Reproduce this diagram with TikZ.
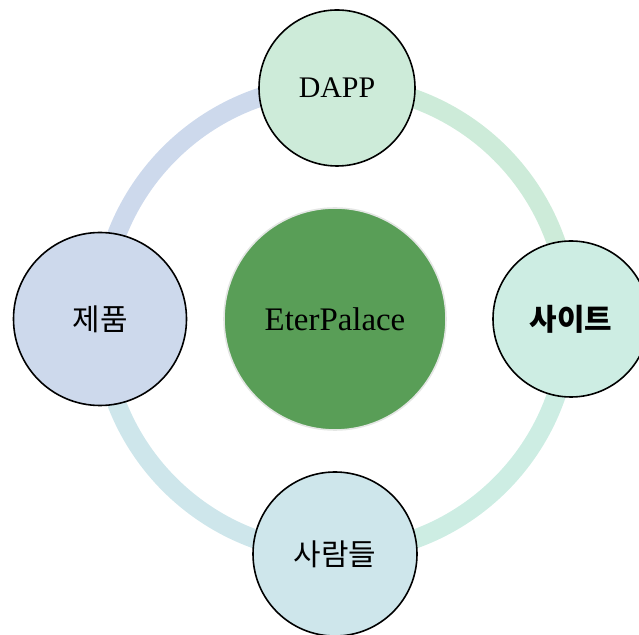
\documentclass[tikz,border=0pt]{standalone}
\usepackage{fontspec}
\setmainfont{Liberation Serif}
\newfontfamily\kofont{Noto Sans CJK KR}
\definecolor{hubgreen}{HTML}{599E57}
\definecolor{hubrim}{HTML}{E4E6E4}
\definecolor{dappfill}{HTML}{CDEBD9}
\definecolor{sitefill}{HTML}{CDEDE3}
\definecolor{peoplefill}{HTML}{CEE6EB}
\definecolor{productfill}{HTML}{CDD9EC}

\begin{document}
\begin{tikzpicture}[x=1bp,y=1bp,
    ring/.style={line width=19bp},
    petal/.style={circle,draw=black,line width=1.6pt,inner sep=0pt,
        font=\fontsize{30}{34}\selectfont},
    kotext/.style={font=\kofont\fontsize{30}{34}\selectfont},
    hub/.style={circle,draw=hubrim,line width=1.6pt,fill=hubgreen,inner sep=0pt,
        minimum size=222bp,font=\fontsize{33}{37}\selectfont}]
    \useasboundingbox (0,0) rectangle (639,635);
    \clip (0,0) rectangle (639,635);
    \coordinate (mid) at (335,316);
    % ring behind the circles
    \draw[ring,productfill] ([shift={(90:234)}]mid) arc[start angle=90,end angle=180,radius=234];
    \draw[ring,dappfill] ([shift={(0:234)}]mid) arc[start angle=0,end angle=90,radius=234];
    \draw[ring,sitefill] ([shift={(270:234)}]mid) arc[start angle=270,end angle=360,radius=234];
    \draw[ring,peoplefill] ([shift={(180:234)}]mid) arc[start angle=180,end angle=270,radius=234];
    % circles
    \node[hub] (eter) at (mid) {EterPalace};
    \node[petal,fill=dappfill,minimum size=156bp] (dapp) at (337,547) {DAPP};
    \node[petal,kotext,fill=sitefill,minimum size=156bp] (site) at (571,316) {\bfseries 사이트};
    \node[petal,kotext,fill=peoplefill,minimum size=164bp] (people) at (335,81) {사람들};
    \node[petal,kotext,fill=productfill,minimum size=173bp] (product) at (100,316) {제품};
\end{tikzpicture}
\end{document}
